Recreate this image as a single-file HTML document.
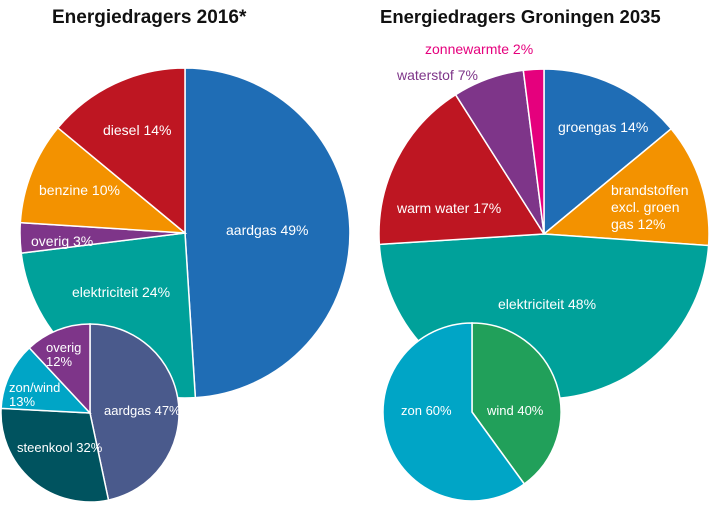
<!DOCTYPE html>
<html><head><meta charset="utf-8">
<style>
html,body{margin:0;padding:0;background:#fff;}
svg{display:block;font-family:"Liberation Sans","DejaVu Sans",sans-serif;}
.l{fill:#fff;font-size:14px;}
.t{fill:#111;font-size:18px;font-weight:bold;}
</style></head>
<body>
<svg id="s" width="727" height="512" viewBox="0 0 727 512">
<g id="pies"></g>
<text class="t" x="52" y="23" style="font-size:19px">Energiedragers 2016*</text>
<text class="t" x="380" y="23" style="font-size:18.5px">Energiedragers Groningen 2035</text>
<text class="l" x="103" y="135">diesel 14%</text>
<text class="l" x="39" y="195">benzine 10%</text>
<text class="l" x="31" y="246">overig 3%</text>
<text class="l" x="226" y="235">aardgas 49%</text>
<text class="l" x="72" y="297">elektriciteit 24%</text>
<text class="l" x="46" y="352" style="font-size:13px">overig</text>
<text class="l" x="46" y="366" style="font-size:13px">12%</text>
<text class="l" x="9" y="392" style="font-size:13px">zon/wind</text>
<text class="l" x="9" y="406" style="font-size:13px">13%</text>
<text class="l" x="104" y="415" style="font-size:13px">aardgas 47%</text>
<text class="l" x="17" y="452" style="font-size:13px">steenkool 32%</text>
<text x="425" y="54" style="fill:#e5007d;font-size:14px">zonnewarmte 2%</text>
<text x="397" y="80" style="fill:#7e3589;font-size:14px">waterstof 7%</text>
<text class="l" x="558" y="132">groengas 14%</text>
<text class="l" x="611" y="195">brandstoffen</text>
<text class="l" x="611" y="212">excl. groen</text>
<text class="l" x="611" y="229">gas 12%</text>
<text class="l" x="397" y="213">warm water 17%</text>
<text class="l" x="498" y="309">elektriciteit 48%</text>
<text class="l" x="401" y="415" style="font-size:13px">zon 60%</text>
<text class="l" x="487" y="415" style="font-size:13px">wind 40%</text>
</svg>
<script>
function pie(cx,cy,r,seg){
 var g=document.getElementById('pies'),h='';
 seg.forEach(function(s){
  var a0=(s[0]-90)*Math.PI/180,a1=(s[1]-90)*Math.PI/180;
  var x0=cx+r*Math.cos(a0),y0=cy+r*Math.sin(a0),x1=cx+r*Math.cos(a1),y1=cy+r*Math.sin(a1);
  var lg=(s[1]-s[0])>180?1:0;
  h+='<path d="M'+cx+','+cy+' L'+x0.toFixed(2)+','+y0.toFixed(2)+' A'+r+','+r+' 0 '+lg+' 1 '+x1.toFixed(2)+','+y1.toFixed(2)+' Z" fill="'+s[2]+'" stroke="#fff" stroke-width="1.5"/>';
 });
 g.innerHTML+=h;
}
pie(185,233,165,[[0,176.4,'#1f6db5'],[176.4,263,'#00a19a'],[263,273.6,'#7e3589'],[273.6,309.6,'#f39200'],[309.6,360,'#be1622']]);
pie(90,413,89,[[0,168,'#4a5a8c'],[168,273,'#00535f'],[273,317,'#00a5c6'],[317,360,'#7e3589']]);
pie(544,234,165,[[0,50.4,'#1f6db5'],[50.4,94,'#f39200'],[94,266.4,'#00a19a'],[266.4,327.6,'#be1622'],[327.6,352.8,'#7e3589'],[352.8,360,'#e5007d']]);
pie(472,412,89,[[0,144,'#21a05a'],[144,360,'#00a5c6']]);
</script>
</body></html>
